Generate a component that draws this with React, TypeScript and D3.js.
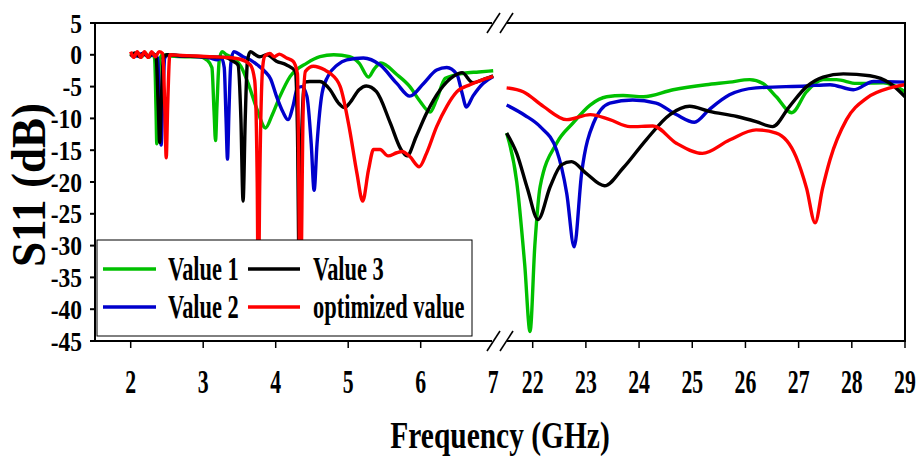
import React from "react";
import * as d3 from "d3";

// Frequency (GHz) / S11 (dB) samples, low band (2–7 GHz)
const value1Low: [number, number][] = [
  [2.0, 0.2], [2.05, -0.3], [2.1, 0.3], [2.15, -0.3], [2.2, 0.3], [2.25, -0.4], [2.3, 0.1],
  [2.33, -0.6], [2.35, -9], [2.36, -14.0], [2.375, -8], [2.4, -0.8], [2.44, 0], [2.55, -0.2],
  [2.75, -0.3], [2.95, -0.3], [3.05, -0.8], [3.12, -2], [3.15, -9], [3.17, -13.5], [3.19, -8],
  [3.22, -1], [3.26, 0.5], [3.32, 0], [3.41, -0.5], [3.52, -1.8], [3.62, -4.5], [3.74, -8.5],
  [3.86, -11.5], [3.95, -9.5], [4.06, -6.5], [4.2, -3.4], [4.43, -1.3], [4.61, -0.3],
  [4.8, 0], [5.02, -0.3], [5.15, -1.3], [5.28, -3.5], [5.36, -2.2], [5.45, -1.3],
  [5.67, -3.1], [5.85, -5], [5.99, -7.3], [6.13, -9.0], [6.22, -7], [6.34, -3.7],
  [6.59, -2.9], [6.8, -2.7], [7.0, -2.5],
];
const value2Low: [number, number][] = [
  [2.0, 0.1], [2.08, -0.2], [2.16, 0.2], [2.24, -0.2], [2.32, 0], [2.37, -0.5], [2.4, -8],
  [2.42, -14.2], [2.44, -8], [2.47, -0.5], [2.52, 0], [2.7, -0.2], [2.95, -0.3], [3.1, -0.5],
  [3.19, -0.8], [3.25, -0.5], [3.29, -2], [3.315, -10], [3.335, -16.4], [3.355, -9],
  [3.38, -1.5], [3.42, 0.5], [3.55, -0.3], [3.65, -0.8], [3.75, -1.6], [3.85, -2.6],
  [3.93, -3.8], [4.01, -6.5], [4.1, -9], [4.17, -10.2], [4.24, -8], [4.3, -5.2], [4.36, -5],
  [4.43, -6.5], [4.49, -14], [4.53, -21.3], [4.57, -14], [4.64, -6], [4.72, -3.4],
  [4.85, -1.6], [4.98, -0.8], [5.21, -0.5], [5.44, -1.6], [5.67, -4.5], [5.85, -6.5],
  [6.04, -4.5], [6.22, -2.4], [6.36, -2.0], [6.5, -3.1], [6.57, -6.0], [6.63, -8.2],
  [6.72, -6.5], [6.86, -4.5], [7.0, -3.4],
];
const value3Low: [number, number][] = [
  [2.0, -0.3], [2.06, 0.3], [2.12, -0.3], [2.18, 0.3], [2.24, -0.3], [2.3, 0.2], [2.35, -0.4],
  [2.38, -8], [2.4, -13.8], [2.42, -8], [2.45, -0.5], [2.5, 0], [2.75, -0.2], [3.0, -0.3],
  [3.3, -0.4], [3.41, -1], [3.48, -1.6], [3.52, -10], [3.55, -23.0], [3.58, -10],
  [3.61, -1], [3.65, 0.5], [3.72, 0], [3.78, -0.3], [3.88, 0], [4.01, -1], [4.15, -1.6],
  [4.27, -2.6], [4.3, -12], [4.33, -40], [4.36, -12], [4.4, -4.3], [4.47, -4.2],
  [4.61, -4.2], [4.75, -5.5], [4.86, -7.5], [4.95, -8.3], [5.02, -7.6], [5.15, -5.5],
  [5.25, -4.9], [5.39, -5.8], [5.58, -10.7], [5.72, -14.7], [5.81, -15.9], [5.94, -12.8],
  [6.08, -9.2], [6.27, -5.5], [6.45, -3.4], [6.57, -2.8], [6.72, -4.4], [6.86, -3.9],
  [7.0, -3.3],
];
const optimizedLow: [number, number][] = [
  [2.0, 0.5], [2.04, -0.4], [2.09, 0.5], [2.14, -0.4], [2.19, 0.5], [2.24, -0.4],
  [2.29, 0.5], [2.34, -0.3], [2.39, 0.5], [2.44, 0.2], [2.47, -8], [2.49, -16.2],
  [2.51, -8], [2.54, 0], [2.7, -0.1], [2.9, -0.2], [3.09, -0.3], [3.3, -0.4], [3.51, -0.7],
  [3.65, -1.6], [3.71, -4], [3.745, -20], [3.76, -40], [3.78, -20], [3.82, -2],
  [3.85, -0.2], [3.92, 0.2], [3.98, -0.3], [4.05, 0.1], [4.15, -0.5], [4.24, -1],
  [4.3, -3], [4.34, -40], [4.38, -8], [4.41, -2.6], [4.52, -1.8], [4.68, -2.4],
  [4.75, -2.9], [4.89, -5], [5.02, -11.8], [5.12, -18.6], [5.2, -23.0], [5.28, -18.1],
  [5.35, -14.9], [5.44, -14.9], [5.55, -15.9], [5.67, -15.4], [5.74, -15.2], [5.85, -16],
  [5.98, -17.6], [6.08, -15.5], [6.22, -11.3], [6.36, -8.1], [6.5, -5.8], [6.68, -4.7],
  [6.86, -3.9], [7.0, -3.4],
];

// High band (21.5–29 GHz)
const value1High: [number, number][] = [
  [21.51, -12.3], [21.7, -20], [21.85, -33], [21.95, -43.5], [22.04, -30], [22.14, -20.7],
  [22.45, -13.9], [22.76, -10.7], [23.08, -7.9], [23.39, -6.6], [23.7, -6.4], [24.08, -6.6],
  [24.64, -5.5], [25.26, -4.7], [25.7, -4.3], [26.08, -3.9], [26.33, -4.5], [26.58, -6.6],
  [26.87, -9.1], [27.15, -5.8], [27.46, -3.9], [27.71, -3.9], [28.09, -4.5], [28.59, -4.4],
  [29.0, -5.8],
];
const value2High: [number, number][] = [
  [21.51, -7.9], [21.85, -9.5], [22.14, -11.3], [22.45, -15], [22.64, -21.8], [22.78, -30.2],
  [22.92, -18.6], [23.14, -10.8], [23.45, -7.6], [23.88, -7.1], [24.32, -7.6], [24.7, -9.4],
  [25.04, -10.6], [25.32, -8.6], [25.7, -6.3], [26.2, -5.2], [27.15, -4.9], [27.59, -4.7],
  [28.03, -5.5], [28.41, -4.2], [29.0, -4.3],
];
const value3High: [number, number][] = [
  [21.51, -12.3], [21.7, -15.5], [21.9, -21], [22.1, -25.9], [22.33, -20.7], [22.54, -17.3],
  [22.73, -16.8], [23.0, -18.6], [23.35, -20.6], [23.7, -17.8], [24.13, -13.4], [24.58, -9.4],
  [24.95, -8.1], [25.32, -8.9], [25.84, -9.7], [26.2, -10.5], [26.51, -11.3], [26.83, -8.1],
  [27.15, -5.0], [27.46, -3.5], [27.84, -3.0], [28.34, -3.3], [28.72, -4.5], [29.0, -6.6],
];
const optimizedHigh: [number, number][] = [
  [21.51, -5.2], [21.82, -5.8], [22.2, -8.1], [22.64, -10.2], [23.08, -9.4], [23.45, -10.2],
  [23.83, -11.3], [24.26, -11.2], [24.7, -13.9], [25.19, -15.5], [25.7, -13.4], [26.2, -11.8],
  [26.58, -12.3], [26.95, -16], [27.15, -21], [27.31, -26.4], [27.45, -21], [27.59, -16.5],
  [27.9, -10.2], [28.28, -6.8], [28.72, -5.2], [29.0, -4.7],
];

const seriesNames = ["Value 1", "Value 2", "Value 3", "optimized value"];
const seriesColors = ["#00c000", "#0000cc", "#000000", "#ff0000"];
const lowBand = [value1Low, value2Low, value3Low, optimizedLow];
const highBand = [value1High, value2High, value3High, optimizedHigh];

const yTicks = [5, 0, -5, -10, -15, -20, -25, -30, -35, -40, -45];
const lowTicks = [2, 3, 4, 5, 6];
const lowLabels = [2, 3, 4, 5, 6, 7];
const highTicks = [22, 23, 24, 25, 26, 27, 28, 29];

const FONT = "'Liberation Serif', 'Times New Roman', serif";

const W = 918;
const H = 463;
const top = 23;
const bottom = 341;
const left = 95;
const lowEnd = 492;
const highStart = 507;
const right = 905;

const y = d3.scaleLinear().domain([5, -45]).range([top, bottom]);
const xLow = d3.scaleLinear().domain([2, 7]).range([130.7, 493.2]);
const xHigh = d3.scaleLinear().domain([22, 29]).range([532.7, right]);

function Txt(props: {
  x: number; y: number; sx: number; size: number; anchor?: string; children: React.ReactNode;
}) {
  const { x, y: ty, sx, size, anchor = "start", children } = props;
  return (
    <text
      transform={`translate(${x},${ty}) scale(${sx},1)`}
      fontFamily={FONT}
      fontWeight="bold"
      fontSize={size}
      textAnchor={anchor}
      fill="#000"
    >
      {children}
    </text>
  );
}

export default function App() {
  const lineLow = d3
    .line<[number, number]>()
    .x((d) => xLow(d[0]))
    .y((d) => y(d[1]))
    .curve(d3.curveMonotoneX);
  const lineHigh = d3
    .line<[number, number]>()
    .x((d) => xHigh(d[0]))
    .y((d) => y(d[1]))
    .curve(d3.curveMonotoneX);

  const breakMark = (cx: number, cy: number, key: string) => (
    <line key={key} x1={cx - 6.5} y1={cy + 10} x2={cx + 6.5} y2={cy - 10} stroke="#000" strokeWidth={1.6} />
  );

  const legendRows = [
    { y: 269, items: [0, 2] },
    { y: 307, items: [1, 3] },
  ];
  const legendCols = [
    { x1: 103, x2: 156, tx: 168 },
    { x1: 248, x2: 300, tx: 313 },
  ];

  return (
    <svg
      width={W}
      height={H}
      style={{ position: "absolute", left: 0, top: 0, background: "#fff" }}
    >
      <defs>
        <clipPath id="clipLow">
          <rect x={left} y={top} width={497 - left} height={bottom - top} />
        </clipPath>
        <clipPath id="clipHigh">
          <rect x={505} y={top} width={right - 505} height={bottom - top} />
        </clipPath>
      </defs>

      {/* curves */}
      <g clipPath="url(#clipLow)" fill="none" strokeWidth={3.4} strokeLinejoin="round">
        {lowBand.map((s, i) => (
          <path key={i} d={lineLow(s) || ""} stroke={seriesColors[i]} />
        ))}
      </g>
      <g clipPath="url(#clipHigh)" fill="none" strokeWidth={3.4} strokeLinejoin="round">
        {highBand.map((s, i) => (
          <path key={i} d={lineHigh(s) || ""} stroke={seriesColors[i]} />
        ))}
      </g>

      {/* frame */}
      <g stroke="#000" strokeWidth={2} fill="none">
        <line x1={left} y1={top} x2={left} y2={bottom + 1} />
        <line x1={left - 1} y1={top} x2={lowEnd} y2={top} />
        <line x1={highStart} y1={top} x2={right + 1} y2={top} />
        <line x1={left - 1} y1={bottom} x2={lowEnd} y2={bottom} />
        <line x1={highStart} y1={bottom} x2={right + 1} y2={bottom} />
        <line x1={right} y1={top} x2={right} y2={bottom} />
      </g>
      {breakMark(493.5, top, "bt1")}
      {breakMark(506.5, top, "bt2")}
      {breakMark(493.5, bottom, "bb1")}
      {breakMark(506.5, bottom, "bb2")}

      {/* y axis */}
      {yTicks.map((t) => (
        <g key={t}>
          <line x1={left - 5} x2={left} y1={y(t)} y2={y(t)} stroke="#000" strokeWidth={2} />
          <Txt x={82} y={y(t) + 9.5} sx={0.84} size={28} anchor="end">
            {t}
          </Txt>
        </g>
      ))}

      {/* x axis, low band */}
      {lowTicks.map((t) => (
        <line key={t} x1={xLow(t)} x2={xLow(t)} y1={bottom} y2={bottom + 7} stroke="#000" strokeWidth={1.5} />
      ))}
      {lowLabels.map((t) => (
        <Txt key={t} x={xLow(t)} y={393} sx={0.64} size={34} anchor="middle">
          {t}
        </Txt>
      ))}

      {/* x axis, high band */}
      {highTicks.map((t) => (
        <g key={t}>
          <line x1={xHigh(t)} x2={xHigh(t)} y1={bottom} y2={bottom + 7} stroke="#000" strokeWidth={1.5} />
          <Txt x={xHigh(t)} y={393} sx={0.64} size={34} anchor="middle">
            {t}
          </Txt>
        </g>
      ))}

      {/* axis titles */}
      <Txt x={500} y={448} sx={0.775} size={38} anchor="middle">
        Frequency (GHz)
      </Txt>
      <text
        transform="translate(45,185) rotate(-90)"
        fontFamily={FONT}
        fontWeight="bold"
        fontSize={48}
        textAnchor="middle"
        textLength={164}
        lengthAdjust="spacingAndGlyphs"
      >
        S11 (dB)
      </text>

      {/* legend */}
      <rect x={97} y={240} width={375} height={96} fill="#fff" stroke="#000" strokeWidth={1} />
      {legendRows.map((row) =>
        row.items.map((si, ci) => (
          <g key={si}>
            <line
              x1={legendCols[ci].x1}
              x2={legendCols[ci].x2}
              y1={row.y}
              y2={row.y}
              stroke={seriesColors[si]}
              strokeWidth={3.4}
            />
            <Txt x={legendCols[ci].tx} y={row.y + 11} sx={0.68} size={33}>
              {seriesNames[si]}
            </Txt>
          </g>
        ))
      )}
    </svg>
  );
}
